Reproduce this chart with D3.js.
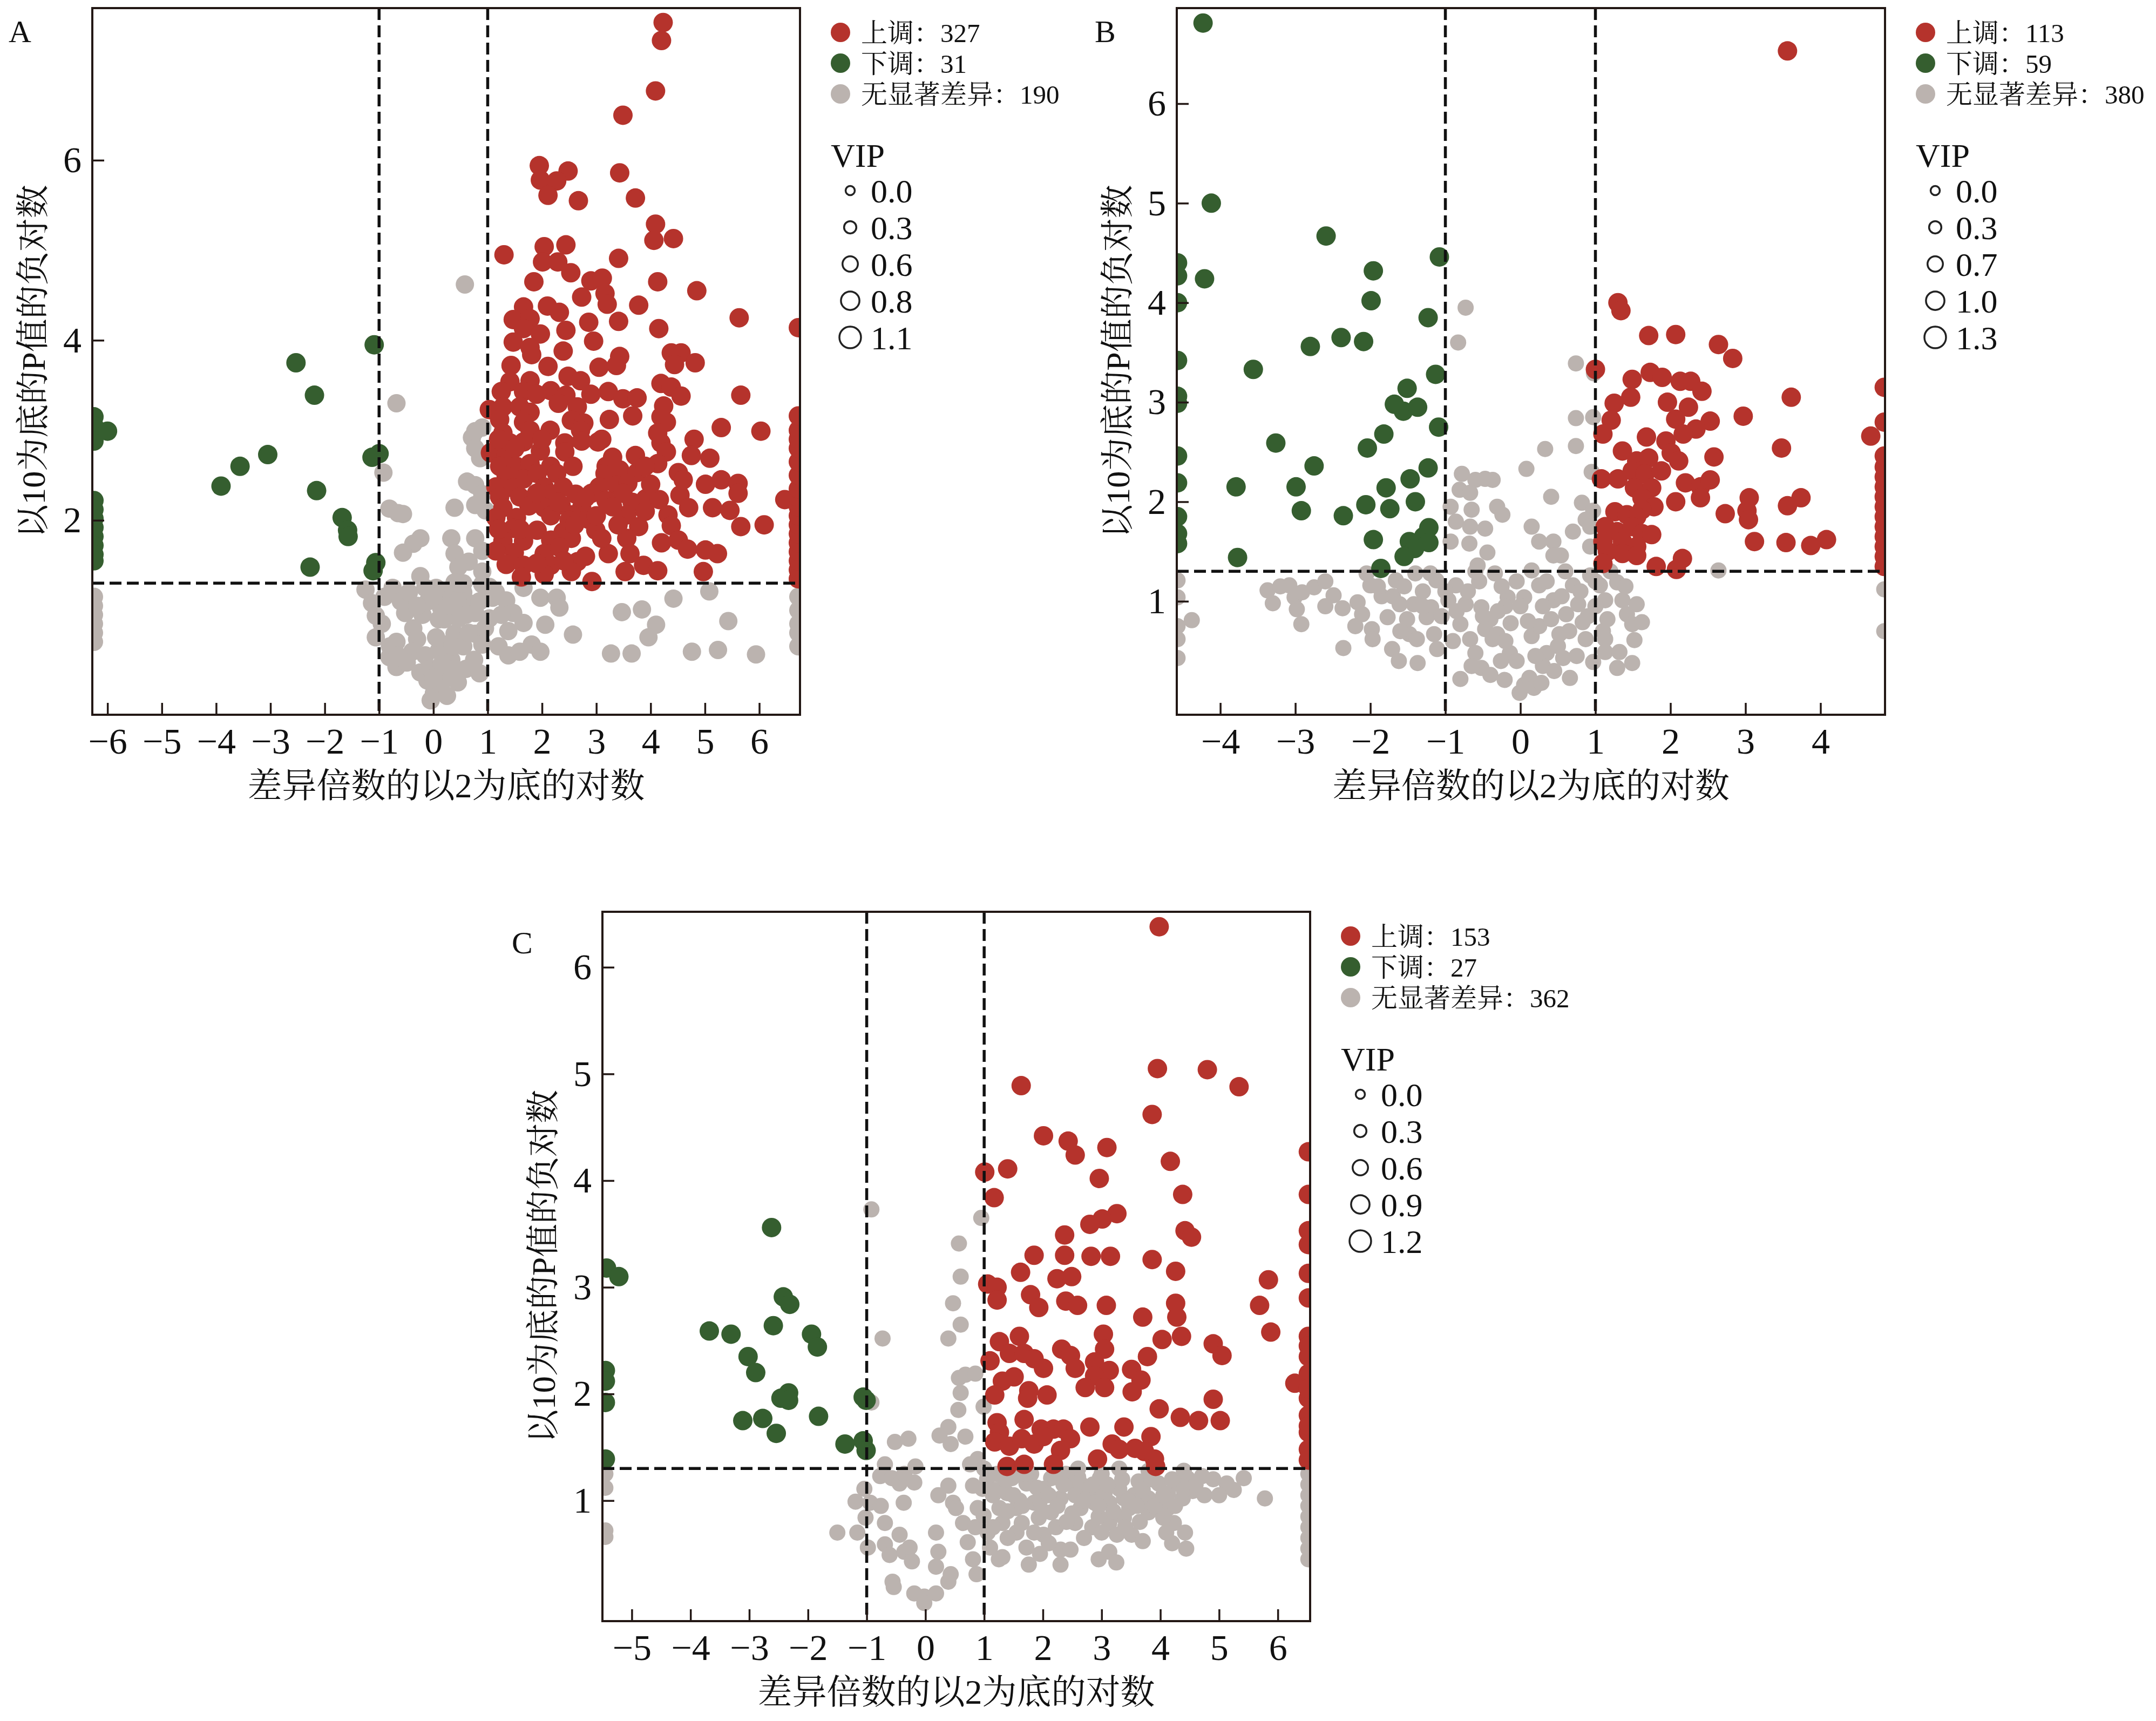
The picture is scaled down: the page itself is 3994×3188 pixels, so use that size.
<!DOCTYPE html>
<html>
<head>
<meta charset="utf-8">
<script src="https://cdn.jsdelivr.net/npm/d3@7"></script>
<style>
  body { margin: 0; background: #fff; }
  svg { display: block; }
</style>
</head>
<body>
<svg id="chart"></svg>
<script>
var width = 3994;
var height = 3188;

// ---- panel A ----
var aXTicks = [-6, -5, -4, -3, -2, -1, 0, 1, 2, 3, 4, 5, 6];
var aYTicks = [2, 4, 6];
var aCounts = [327, 31, 190];
var aVip = ["0.0", "0.3", "0.6", "0.8", "1.1"];

var aUp = [
  [4.23,7.53],[4.20,7.33],[4.09,6.77],[3.49,6.50],[1.95,5.94],[2.48,5.88],[1.97,5.78],[2.27,5.77],[2.11,5.61],[2.67,5.55],
  [3.43,5.86],[3.72,5.58],[4.09,5.29],[4.06,5.11],[4.42,5.13],[1.30,4.95],[2.04,5.04],[2.44,5.06],[2.01,4.87],[2.29,4.87],
  [3.41,4.91],[1.85,4.65],[2.53,4.75],[2.90,4.66],[3.11,4.69],[4.13,4.65],[4.85,4.55],[3.16,4.52],[2.73,4.48],[3.20,4.40],
  [3.78,4.39],[1.66,4.37],[2.10,4.38],[1.47,4.23],[1.78,4.24],[2.32,4.31],[2.86,4.20],[3.41,4.21],[5.63,4.25],[1.66,4.13],
  [1.97,4.07],[2.44,4.11],[4.15,4.13],[1.47,3.98],[1.78,3.92],[2.95,3.99],[1.81,3.84],[2.39,3.88],[3.43,3.82],[4.38,3.86],
  [4.56,3.86],[1.43,3.72],[2.11,3.71],[3.05,3.70],[3.37,3.72],[4.44,3.73],[4.82,3.75],[1.41,3.54],[1.78,3.55],[2.48,3.60],
  [2.71,3.55],[1.25,3.43],[1.66,3.43],[2.16,3.44],[2.44,3.39],[3.22,3.43],[4.19,3.52],[4.38,3.48],[4.56,3.38],[5.66,3.39],
  [1.28,3.26],[1.59,3.26],[1.78,3.20],[2.65,3.26],[3.49,3.35],[3.75,3.36],[4.24,3.27],[1.03,3.23],[1.22,3.12],[1.66,3.09],
  [2.54,3.11],[2.77,3.08],[3.24,3.12],[3.67,3.16],[4.19,3.15],[4.29,3.09],[1.28,2.97],[1.78,3.00],[2.15,3.00],[2.71,3.00],
  [4.13,2.97],[5.30,3.03],[6.03,2.99],[1.41,2.86],[1.66,2.87],[2.42,2.86],[2.73,2.88],[3.03,2.87],[4.80,2.90],[4.19,2.86],
  [1.05,2.75],[1.34,2.73],[1.97,2.77],[2.42,2.76],[4.29,2.76],[4.75,2.72],[5.09,2.69],[1.22,2.60],[1.53,2.60],[1.78,2.63],
  [2.16,2.60],[2.57,2.60],[3.18,2.60],[3.72,2.72],[4.13,2.63],[1.34,2.49],[1.66,2.46],[1.91,2.52],[2.27,2.52],[3.16,2.52],
  [3.43,2.56],[3.75,2.53],[4.51,2.53],[1.15,2.37],[1.47,2.36],[2.04,2.37],[2.39,2.37],[3.05,2.37],[3.37,2.39],[3.58,2.41],
  [5.01,2.40],[5.30,2.45],[5.61,2.41],[1.22,2.26],[1.59,2.26],[2.16,2.29],[2.62,2.29],[2.91,2.30],[3.49,2.30],[4.54,2.28],
  [5.61,2.30],[6.47,2.23],[1.28,2.14],[1.76,2.16],[2.04,2.14],[2.35,2.17],[2.73,2.14],[3.18,2.22],[3.66,2.20],[3.91,2.24],
  [4.16,2.23],[4.70,2.14],[5.14,2.14],[5.46,2.11],[1.15,2.03],[1.53,2.03],[2.16,2.05],[2.54,2.06],[2.86,2.01],[3.56,2.06],
  [4.32,2.06],[6.09,1.95],[5.66,1.93],[1.47,1.91],[1.91,1.89],[2.39,1.87],[2.99,1.89],[3.78,1.93],[4.38,1.94],[1.28,1.77],
  [1.66,1.77],[2.16,1.78],[2.54,1.80],[3.56,1.80],[4.51,1.78],[1.15,1.66],[1.49,1.64],[2.04,1.63],[2.32,1.70],[3.22,1.63],
  [3.62,1.63],[4.68,1.68],[5.01,1.67],[5.23,1.63],[1.34,1.51],[1.66,1.50],[2.16,1.50],[2.65,1.54],[3.87,1.50],[4.13,1.44],
  [4.97,1.43],[1.62,1.37],[2.04,1.40],[2.54,1.43],[2.92,1.32],[3.53,1.43],
  [2.30,2.20],[2.50,2.00],[2.80,2.25],[3.30,2.15],[3.00,2.05],[1.90,2.30],[2.60,1.95],[3.10,1.80],[3.90,2.10],[4.00,2.40],
  [3.30,2.70],[3.90,2.60],[2.00,2.90],[2.30,3.30],[2.90,3.40],[3.10,2.90],[1.50,2.80],[1.90,3.40],[1.20,2.90],[1.20,1.90],
  [1.60,1.90],[2.80,1.60],[2.40,1.55],[1.90,1.52],[3.40,1.95],[4.20,1.75],[4.60,2.45],
  [6.72,1.35],[6.72,1.45],[6.72,1.55],[6.72,1.65],[6.72,1.75],[6.72,1.85],[6.72,1.95],[6.72,2.05],[6.72,2.15],[6.72,2.25],
  [6.72,2.35],[6.72,2.50],[6.72,2.65],[6.72,2.80],[6.72,2.90],[6.72,3.00],[6.72,3.16],[6.72,4.14]
];
var aDown = [
  [-6.25,3.15],[-6.25,3.05],[-6.25,2.88],[-6.00,2.99],[-6.25,2.22],[-6.25,2.12],[-6.25,2.02],[-6.25,1.92],[-6.25,1.82],
  [-6.25,1.72],[-6.25,1.62],[-6.25,1.55],[-2.53,3.75],[-2.19,3.39],[-1.09,3.95],[-3.05,2.73],[-3.56,2.60],[-3.91,2.38],
  [-2.15,2.33],[-1.13,2.70],[-1.00,2.74],[-1.68,2.03],[-1.58,1.89],[-1.57,1.82],[-2.27,1.48],[-1.06,1.53],[-1.11,1.44]
];
var aNone = [
  [0.58,4.62],[-0.68,3.30],[-0.92,2.53],[-0.81,2.13],[-0.56,2.07],[-0.65,2.08],[0.77,2.99],[0.90,3.03],[0.71,2.92],[0.86,2.69],
  [0.77,2.80],[0.62,2.43],[0.77,2.39],[0.90,2.29],[0.39,2.14],[0.77,2.17],[0.96,2.11],[-0.24,1.80],[-0.37,1.74],[-0.56,1.64],
  [0.33,1.80],[0.39,1.63],[0.77,1.80],[0.90,1.66],[0.65,1.54],[0.46,1.48],[0.90,1.43],[-0.24,1.38],
  [-1.25,1.23],[-1.13,1.08],[-1.06,0.94],[-1.06,0.70],[-0.52,0.97],[-0.68,0.65],[-0.81,0.48],[-0.68,0.37],[-0.37,0.80],
  [-0.30,0.68],[-0.39,0.54],[-0.49,0.42],[-0.24,0.31],[-0.11,0.22],[0.01,0.08],[-0.05,0.00],[0.14,0.17],[0.27,0.28],
  [0.33,0.45],[0.20,0.62],[0.39,0.74],[0.14,1.03],[0.27,1.20],[0.46,0.91],[0.65,1.08],[0.39,1.31],[0.77,0.97],[0.77,0.74],
  [0.75,0.45],[0.90,0.62],[1.15,1.20],[1.34,1.11],[1.47,0.97],[1.38,0.77],[1.66,0.86],[1.66,1.25],[1.97,1.14],[2.27,1.14],
  [2.32,1.03],[2.06,0.84],[2.57,0.73],[1.38,0.50],[1.59,0.54],[1.81,0.62],[1.97,0.54],[3.47,0.98],[3.84,1.01],[4.10,0.84],
  [3.96,0.70],[4.42,1.13],[5.08,1.21],[5.43,0.88],[3.27,0.52],[3.65,0.52],[4.76,0.54],[5.24,0.56],[5.94,0.51],
  [1.03,1.26],[1.09,1.14],[0.90,1.29],[1.03,0.91],[-0.95,0.85],[-0.80,0.60],[-0.66,0.50],[0.05,1.25],[0.20,0.90],
  [0.55,0.60],[0.10,0.55],[0.55,1.20],[-0.10,1.10],[-0.20,0.95],[0.60,0.35],[0.45,0.20],[0.25,0.05],
  [-0.90,1.15],[-0.75,1.25],[-0.60,1.10],[-0.45,1.20],[-0.30,1.05],[-0.15,1.25],[0.00,1.15],[0.10,0.90],[0.30,1.05],
  [0.45,1.10],[0.60,0.95],[0.85,1.10],[0.95,0.80],[0.65,0.75],[0.35,0.60],[0.05,0.70],[-0.15,0.50],[-0.05,0.35],
  [0.15,0.40],[0.40,0.35],[0.00,0.25],[0.55,1.30],[0.85,0.30],[1.20,0.60],[1.25,0.95],
  [6.72,1.15],[6.72,1.00],[6.72,0.85],[6.72,0.75],[6.72,0.60],
  [-6.25,1.15],[-6.25,1.05],[-6.25,0.95],[-6.25,0.85],[-6.25,0.75],[-6.25,0.65]
];

// ---- panel B ----
var bXTicks = [-4, -3, -2, -1, 0, 1, 2, 3, 4];
var bYTicks = [1, 2, 3, 4, 5, 6];
var bCounts = [113, 59, 380];
var bVip = ["0.0", "0.3", "0.7", "1.0", "1.3"];

var bUp = [
  [3.56,6.53],[1.30,4.00],[1.34,3.92],[1.71,3.67],[2.07,3.68],[2.64,3.58],[2.83,3.44],[1.00,3.33],[1.49,3.23],[1.73,3.30],
  [1.89,3.25],[2.13,3.21],[2.27,3.21],[2.42,3.11],[1.47,3.05],[1.25,2.99],[1.96,3.00],[2.24,2.95],[3.61,3.05],[2.97,2.86],
  [1.21,2.82],[2.07,2.83],[2.53,2.81],[2.34,2.73],[2.17,2.68],[1.10,2.68],[1.68,2.65],[1.94,2.61],[2.01,2.49],[4.67,2.66],
  [3.48,2.54],[1.36,2.51],[1.55,2.41],[1.71,2.44],[2.58,2.45],[2.11,2.41],[1.49,2.31],[1.66,2.28],[1.88,2.31],[1.08,2.23],
  [1.30,2.23],[1.52,2.14],[1.75,2.14],[2.20,2.19],[2.40,2.15],[2.53,2.22],[2.07,2.00],[2.40,2.04],[3.05,2.04],[3.74,2.04],
  [3.56,1.96],[1.62,2.04],[1.78,1.95],[1.62,1.92],[1.26,1.90],[1.42,1.87],[1.55,1.85],[2.73,1.88],[3.02,1.91],[3.04,1.82],
  [1.13,1.75],[1.29,1.70],[1.49,1.75],[1.62,1.68],[1.75,1.67],[1.10,1.60],[1.36,1.60],[1.55,1.55],[3.12,1.60],[3.54,1.59],
  [3.87,1.56],[4.08,1.62],[1.16,1.50],[1.36,1.48],[1.55,1.46],[1.10,1.38],[2.16,1.43],[1.81,1.35],[2.08,1.32],
  [4.85,1.35],[4.85,1.45],[4.85,1.55],[4.85,1.65],[4.85,1.75],[4.85,1.85],[4.85,1.95],[4.85,2.05],[4.85,2.15],[4.85,2.25],
  [4.85,2.35],[4.85,2.46],[4.85,2.80],[4.85,3.15]
];
var bDown = [
  [-4.23,6.81],[-4.12,5.00],[-2.59,4.67],[-4.21,4.24],[-4.57,4.40],[-4.57,4.27],[-4.57,4.00],[-1.08,4.46],[-1.96,4.32],
  [-1.99,4.02],[-1.23,3.85],[-2.39,3.65],[-2.09,3.61],[-2.80,3.56],[-3.56,3.33],[-4.57,3.42],[-1.13,3.28],[-1.51,3.14],
  [-4.57,3.06],[-4.57,2.99],[-1.68,2.98],[-1.56,2.91],[-1.37,2.95],[-1.09,2.75],[-1.82,2.68],[-3.26,2.59],[-2.04,2.54],
  [-2.75,2.36],[-1.23,2.34],[-4.57,2.46],[-3.79,2.15],[-2.99,2.15],[-4.57,2.19],[-1.47,2.23],[-1.79,2.14],[-1.40,2.00],
  [-2.06,1.97],[-1.74,1.93],[-2.92,1.91],[-2.36,1.86],[-4.57,1.85],[-4.57,1.68],[-4.57,1.58],[-1.22,1.74],[-1.29,1.65],
  [-1.22,1.59],[-1.48,1.60],[-1.41,1.53],[-1.55,1.45],[-1.96,1.62],[-3.77,1.44],[-1.86,1.33]
];
var bNone = [
  [-0.73,3.95],[-0.83,3.60],[0.74,3.39],[0.98,3.29],[0.74,2.84],[0.97,2.85],[0.33,2.53],[0.74,2.56],[0.08,2.33],[-0.78,2.28],
  [-0.60,2.22],[-0.47,2.23],[-0.37,2.22],[0.95,2.30],[0.41,2.05],[-0.81,2.12],[-0.93,1.95],[-0.67,2.09],[-0.65,1.92],
  [-0.86,1.80],[-0.67,1.75],[-0.31,1.95],[-0.24,1.87],[0.82,1.99],[0.97,1.91],[0.87,1.82],[0.15,1.75],[0.25,1.60],
  [0.44,1.60],[0.54,1.46],[0.44,1.46],[0.70,1.70],[0.93,1.75],[0.93,1.55],[-0.47,1.73],[-0.93,1.60],[-0.68,1.58],
  [-0.44,1.49],[-0.57,1.36],[2.64,1.31],
  [-4.57,1.21],[-4.57,1.04],[-4.57,0.75],[-4.57,0.62],[-4.57,0.43],[-4.38,0.81],[-3.37,1.11],[-3.08,1.16],[-3.01,1.04],
  [-2.91,1.09],[-2.75,1.14],[-2.98,0.92],[-2.92,0.77],[-2.49,1.06],[-2.37,0.93],[-2.36,0.53],[-2.17,0.99],[-2.11,0.87],
  [-2.00,1.16],[-1.98,0.72],[-1.97,0.62],[-1.77,0.84],[-1.71,0.52],[-1.62,0.40],[-1.61,0.97],[-1.66,1.21],[-1.51,0.82],
  [-1.48,0.67],[-1.38,0.62],[-1.37,0.38],[-1.42,0.97],[-1.40,1.28],[-1.19,0.94],[-1.15,0.67],[-1.11,0.52],[-1.25,0.84],
  [-1.12,1.21],[-0.96,1.01],[-0.86,1.16],[-0.80,0.77],[-0.73,0.97],[-0.67,0.62],[-0.60,0.48],[-0.52,0.94],[-0.47,0.72],
  [-0.37,0.62],[-0.40,0.82],[-0.34,1.28],[-0.17,1.04],[-0.13,0.78],[-0.14,0.48],[-0.26,0.40],[-0.31,0.67],[-0.52,0.33],
  [-0.40,0.26],[-0.21,0.21],[-0.01,0.08],[0.05,0.16],[0.12,0.23],[0.18,0.13],[0.28,0.18],[-0.80,0.22],[0.15,0.65],
  [0.25,0.75],[0.35,0.48],[0.41,0.82],[0.44,1.01],[0.52,0.67],[0.61,0.87],[0.57,0.43],[0.66,0.23],[0.70,1.16],[0.77,0.97],
  [0.83,0.79],[0.87,0.62],[0.93,1.26],[1.06,1.16],[1.13,1.01],[1.16,0.82],[1.13,0.62],[1.13,0.49],[1.29,0.33],[0.97,0.39],
  [1.29,1.19],[1.36,1.01],[1.42,0.87],[1.49,0.77],[1.52,0.61],[1.49,0.38],[1.32,0.49],[1.62,0.79],[1.55,0.97],
  [4.85,1.12],[4.85,0.70],[0.15,1.31],[0.25,1.16],[0.05,1.04],
  [-1.85,1.05],[-1.30,1.10],[-0.90,0.60],[-0.20,0.95],[0.30,0.35],[0.50,0.55],[0.80,1.10],[1.00,0.95],[-2.60,1.20],[-3.20,1.15],
  [-1.90,1.15],[-1.70,1.05],[-1.55,1.15],[-1.30,0.95],[-1.05,0.85],[-1.00,1.10],[-0.85,0.90],[-0.70,1.10],[-0.55,1.20],
  [-0.50,0.85],[-0.30,0.90],[-0.25,1.15],[-0.05,1.20],[0.00,0.95],[0.10,0.80],[0.30,0.95],[0.35,1.20],[0.55,1.05],
  [0.65,0.70],[0.75,0.45],[0.90,0.85],[1.00,1.20],[1.20,1.30],[1.40,1.15],[1.10,0.70],[-0.20,0.60],[-0.05,0.40],
  [0.20,0.45],[0.45,0.30],[-0.65,0.35],[-1.60,0.70],[-2.20,0.75],[-2.60,0.95],[-3.30,0.98],[-2.05,1.28],[-1.20,1.28],
  [-0.60,1.30],[0.60,1.30]
];

// ---- panel C ----
var cXTicks = [-5, -4, -3, -2, -1, 0, 1, 2, 3, 4, 5, 6];
var cYTicks = [1, 2, 3, 4, 5, 6];
var cCounts = [153, 27, 362];
var cVip = ["0.0", "0.3", "0.6", "0.9", "1.2"];

var cUp = [
  [3.98,6.38],[3.95,5.05],[4.80,5.04],[5.34,4.88],[1.63,4.89],[3.86,4.62],[2.01,4.42],[2.43,4.37],[2.55,4.24],[3.09,4.31],
  [4.17,4.18],[6.52,4.27],[1.01,4.08],[1.40,4.11],[2.96,4.02],[1.17,3.84],[4.38,3.87],[6.52,3.87],[3.26,3.69],[3.01,3.64],
  [2.80,3.59],[2.37,3.49],[4.42,3.53],[4.53,3.47],[6.52,3.53],[6.52,3.40],[1.85,3.30],[2.37,3.30],[2.82,3.29],[3.15,3.29],
  [3.86,3.26],[1.62,3.14],[4.26,3.15],[6.52,3.13],[2.24,3.08],[2.49,3.10],[1.06,3.03],[1.22,3.00],[1.22,2.88],[5.84,3.07],
  [1.79,2.93],[1.93,2.81],[2.39,2.87],[2.59,2.83],[3.08,2.83],[4.26,2.85],[4.28,2.72],[5.69,2.83],[3.70,2.72],[5.88,2.58],
  [3.03,2.56],[3.05,2.42],[1.60,2.54],[1.26,2.49],[1.43,2.38],[4.03,2.51],[4.36,2.54],[4.90,2.47],[5.05,2.36],[6.52,2.54],
  [6.52,2.35],[6.52,2.19],[2.32,2.42],[2.47,2.36],[1.68,2.38],[1.85,2.33],[2.01,2.24],[3.78,2.35],[1.10,2.31],[2.88,2.30],
  [3.13,2.22],[2.88,2.17],[2.55,2.24],[3.51,2.23],[3.67,2.13],[1.31,2.12],[1.51,2.16],[6.29,2.10],[2.72,2.06],[3.05,2.06],
  [1.76,2.03],[1.74,1.96],[2.07,1.99],[1.18,1.99],[3.52,2.02],[4.90,1.95],[6.52,1.96],[6.52,1.80],[3.98,1.86],[4.34,1.78],
  [4.65,1.75],[5.02,1.75],[1.22,1.73],[1.68,1.76],[1.26,1.64],[1.97,1.67],[2.18,1.67],[2.35,1.67],[2.80,1.69],[3.38,1.69],
  [3.84,1.60],[6.52,1.64],[6.52,1.48],[1.18,1.55],[1.43,1.51],[1.64,1.58],[1.85,1.53],[2.01,1.60],[2.47,1.58],[3.18,1.53],
  [3.30,1.48],[3.57,1.49],[3.73,1.46],[3.90,1.39],[2.30,1.47],[2.93,1.39],[1.39,1.32],[1.68,1.34],[2.18,1.34],[3.92,1.32],
  [6.52,1.38],[6.52,1.70],[6.52,2.05],[6.52,2.45],[6.52,2.90]
];
var cDown = [
  [-2.62,3.56],[-5.43,3.18],[-5.22,3.10],[-2.42,2.91],[-2.31,2.84],[-2.59,2.64],[-3.68,2.59],[-3.31,2.56],[-1.94,2.56],
  [-1.84,2.44],[-3.02,2.35],[-2.89,2.20],[-5.45,2.22],[-5.45,2.12],[-5.45,1.92],[-2.33,2.01],[-2.46,1.96],[-2.33,1.94],
  [-1.06,1.97],[-1.01,1.94],[-3.11,1.75],[-2.77,1.77],[-1.82,1.79],[-2.54,1.63],[-1.37,1.53],[-1.06,1.56],[-1.01,1.47],
  [-5.45,1.39]
];
var cNone = [
  [-0.92,3.73],[0.95,3.65],[0.57,3.41],[0.60,3.10],[0.47,2.85],[0.60,2.65],[0.39,2.52],[-0.73,2.52],[0.57,2.15],[0.68,2.18],
  [0.85,2.19],[0.60,2.01],[0.56,1.85],[-0.92,1.92],[0.99,1.88],[0.39,1.69],[0.24,1.61],[0.43,1.53],[0.68,1.60],[-0.52,1.55],
  [-0.29,1.58],[0.89,1.39],[0.76,1.34],[-0.69,1.34],[-0.77,1.23],[-0.57,1.21],[-0.44,1.16],[-0.36,1.25],[-0.17,1.32],
  [-1.04,1.11],[-1.19,0.99],[-0.94,0.98],[-1.02,0.84],[-0.76,0.95],[-0.69,0.79],[-0.37,0.98],[-0.19,1.17],[0.22,1.05],
  [0.39,1.14],[0.47,0.98],[-1.50,0.70],[-1.16,0.70],[-0.98,0.56],[-0.69,0.59],[-0.61,0.49],[-0.44,0.68],[-0.36,0.52],
  [-0.27,0.56],[-0.23,0.43],[-0.56,0.24],[-0.54,0.19],[-0.19,0.13],[-0.02,0.10],[0.18,0.13],[-0.02,0.04],[0.18,0.70],
  [0.22,0.52],[0.18,0.38],[0.39,0.24],[0.43,0.31],[0.52,0.93],[0.64,0.79],[0.72,0.61],[0.85,0.75],[0.81,0.45],[0.87,0.31],
  [0.97,1.11],[0.99,0.86],[1.06,0.70],[0.89,0.93],[0.81,1.14],
  [1.22,1.25],[1.39,1.07],[1.55,0.93],[1.72,1.16],[1.85,0.98],[2.01,1.11],[2.14,0.89],[2.30,1.02],[2.47,1.16],[2.64,0.93],
  [2.80,1.07],[2.97,1.21],[3.13,0.98],[3.30,1.11],[3.47,0.93],[3.63,1.18],[3.80,1.02],[3.97,1.16],[4.13,1.07],[4.30,1.16],
  [4.46,1.21],[4.71,1.23],[4.75,1.05],[5.13,1.16],[5.42,1.21],[5.78,1.02],
  [1.31,0.79],[1.55,0.70],[1.72,0.56],[1.76,0.40],[2.01,0.68],[2.22,0.75],[2.30,0.54],[2.47,0.54],[2.55,0.79],[2.84,0.75],
  [2.88,0.98],[3.13,0.79],[3.13,0.52],[3.26,0.68],[3.51,0.68],[3.80,0.89],[4.01,0.93],[4.23,0.79],[4.42,0.70],[4.05,0.84],
  [3.38,0.84],[1.31,0.47],[1.10,0.56],[1.26,0.93],[1.64,0.79],[1.93,0.84],
  [1.47,1.21],[1.80,1.25],[2.14,1.21],[2.39,1.25],[2.64,1.16],[3.05,1.07],[3.38,1.02],[3.72,0.98],[4.13,0.93],[4.38,1.02],
  [4.55,1.09],[1.15,1.05],[1.60,1.00],[2.00,0.90],[2.55,1.05],[2.95,0.85],[3.55,1.05],[3.00,1.25],[2.20,1.22],[1.40,0.90],
  [1.05,1.20],[1.20,1.10],[1.35,1.20],[1.50,1.05],[1.65,0.95],[1.70,1.25],[1.90,1.12],[1.95,1.00],[2.10,1.05],[2.25,0.95],
  [2.35,1.15],[2.50,0.88],[2.60,1.22],[2.70,1.00],[2.85,1.15],[2.95,0.95],[3.10,1.15],[3.20,0.90],[3.35,1.20],[3.45,1.00],
  [3.60,0.95],[3.70,1.10],[3.85,1.20],[3.90,0.95],[4.05,1.05],[4.20,1.20],[4.25,0.95],[4.40,1.10],[4.60,1.15],[4.90,1.20],
  [1.15,0.75],[1.40,0.65],[1.85,0.70],[2.10,0.60],[2.40,0.80],[2.70,0.65],[3.00,0.70],[3.40,0.75],[3.65,0.80],[4.20,0.60],
  [4.44,0.55],[1.00,1.30],[1.60,1.30],[2.60,1.30],[3.30,1.30],[3.80,1.28],[4.40,1.28],[5.00,1.05],[5.25,1.10],[4.10,0.70],
  [3.70,0.62],[1.25,0.45],[1.95,0.50],[2.30,0.40],[2.95,0.45],[3.25,0.42],
  [6.52,1.25],[6.52,1.15],[6.52,1.05],[6.52,0.95],[6.52,0.85],[6.52,0.75],[6.52,0.65],[6.52,0.55],[6.52,0.45],
  [-5.45,1.25],[-5.45,1.12],[-5.45,0.72],[-5.45,0.66]
];

var legendNames = ["上调：", "下调：", "无显著差异："];
var colors = ["#b5332c", "#355e2f", "#bbb3af"];

var serif = "'Liberation Serif', 'Times New Roman', 'Noto Serif CJK SC', 'Noto Sans CJK SC', serif";

var panels = [
  { letter: "A", left: 171, top: 15, w: 1311, h: 1309, xDomain: [-6.28, 6.75], yDomain: [-0.16, 7.69],
    xTicks: aXTicks, yTicks: aYTicks, up: aUp, down: aDown, none: aNone, counts: aCounts, vip: aVip,
    letterX: 16, letterY: 78, grayR: 17 },
  { letter: "B", left: 2180, top: 15, w: 1312, h: 1309, xDomain: [-4.58, 4.86], yDomain: [-0.14, 6.96],
    xTicks: bXTicks, yTicks: bYTicks, up: bUp, down: bDown, none: bNone, counts: bCounts, vip: bVip,
    letterX: 2028, letterY: 78, grayR: 15 },
  { letter: "C", left: 1116, top: 1689, w: 1311, h: 1314, xDomain: [-5.50, 6.55], yDomain: [-0.13, 6.52],
    xTicks: cXTicks, yTicks: cYTicks, up: cUp, down: cDown, none: cNone, counts: cCounts, vip: cVip,
    letterX: 948, letterY: 1766, grayR: 15 }
];

var svg = d3.select("#chart")
    .attr("width", width)
    .attr("height", height);

svg.append("rect")
    .attr("width", width)
    .attr("height", height)
    .attr("fill", "#fff");

function minus(v) {
    return v < 0 ? "\u2212" + Math.abs(v) : String(v);
}

function drawPanel(p, idx) {
    var xScale = d3.scaleLinear().domain(p.xDomain).range([0, p.w]);
    var yScale = d3.scaleLinear().domain(p.yDomain).range([p.h, 0]);

    var g = svg.append("g")
        .attr("transform", "translate(" + p.left + "," + p.top + ")");

    var clipId = "clip" + idx;
    g.append("clipPath").attr("id", clipId)
      .append("rect")
        .attr("width", p.w)
        .attr("height", p.h);

    var marks = g.append("g").attr("clip-path", "url(#" + clipId + ")");

    // points: gray first, then green, then red on top
    var groups = [
        { data: p.none, color: colors[2], r: p.grayR },
        { data: p.down, color: colors[1], r: 18 },
        { data: p.up, color: colors[0], r: 18 }
    ];
    groups.forEach(function(grp) {
        marks.append("g").selectAll("circle")
            .data(grp.data)
            .enter().append("circle")
            .attr("cx", function(d) { return xScale(d[0]); })
            .attr("cy", function(d) { return yScale(d[1]); })
            .attr("r", grp.r)
            .attr("fill", grp.color);
    });

    // threshold lines
    var dash = "22,10";
    [-1, 1].forEach(function(v) {
        g.append("line")
            .attr("x1", xScale(v)).attr("x2", xScale(v))
            .attr("y1", 0).attr("y2", p.h)
            .attr("stroke", "#111").attr("stroke-width", 5.5)
            .attr("stroke-dasharray", dash);
    });
    g.append("line")
        .attr("x1", 0).attr("x2", p.w)
        .attr("y1", yScale(-Math.log10(0.05))).attr("y2", yScale(-Math.log10(0.05)))
        .attr("stroke", "#111").attr("stroke-width", 5.5)
        .attr("stroke-dasharray", dash);

    // axes
    var xAxis = g.append("g")
        .attr("transform", "translate(0," + p.h + ")")
        .call(d3.axisBottom(xScale)
            .tickValues(p.xTicks)
            .tickFormat(minus)
            .tickSizeInner(-22)
            .tickSizeOuter(0)
            .tickPadding(24));

    var yAxis = g.append("g")
        .call(d3.axisLeft(yScale)
            .tickValues(p.yTicks)
            .tickFormat(minus)
            .tickSizeInner(-22)
            .tickSizeOuter(0)
            .tickPadding(20));

    [xAxis, yAxis].forEach(function(ax) {
        ax.select(".domain").remove();
        ax.selectAll(".tick line").attr("stroke", "#231815").attr("stroke-width", 3.5);
        ax.selectAll(".tick text")
            .attr("fill", "#111")
            .attr("font-family", serif)
            .attr("font-size", 68);
    });

    // frame
    g.append("rect")
        .attr("width", p.w)
        .attr("height", p.h)
        .attr("fill", "none")
        .attr("stroke", "#231815")
        .attr("stroke-width", 4);

    // axis titles
    g.append("text")
        .attr("x", p.w / 2)
        .attr("y", p.h + 153)
        .attr("text-anchor", "middle")
        .attr("font-family", serif)
        .attr("font-size", 64)
        .attr("fill", "#111")
        .text("差异倍数的以2为底的对数");

    g.append("text")
        .attr("transform", "translate(-110," + (p.h / 2) + ") rotate(-90)")
        .attr("text-anchor", "middle")
        .attr("dy", "0.35em")
        .attr("font-family", serif)
        .attr("font-size", 62)
        .attr("fill", "#111")
        .text("以10为底的P值的负对数");

    // panel letter
    svg.append("text")
        .attr("x", p.letterX)
        .attr("y", p.letterY)
        .attr("font-family", serif)
        .attr("font-size", 58)
        .attr("fill", "#111")
        .text(p.letter);

    // legend: groups
    var leg = g.append("g").attr("transform", "translate(" + (p.w + 75) + ",0)");
    legendNames.forEach(function(name, i) {
        var y = 45 + i * 57;
        leg.append("circle")
            .attr("cx", 0).attr("cy", y)
            .attr("r", 18)
            .attr("fill", colors[i]);
        leg.append("text")
            .attr("x", 38).attr("y", y)
            .attr("dy", "0.36em")
            .attr("font-family", serif)
            .attr("font-size", 49)
            .attr("fill", "#111")
            .text(name + p.counts[i]);
    });

    // legend: VIP sizes
    var rScale = d3.scaleLinear().domain([0, p.vip.length - 1]).range([8.5, 20]);
    leg.append("text")
        .attr("x", -18).attr("y", 272)
        .attr("dy", "0.35em")
        .attr("font-family", serif)
        .attr("font-size", 62)
        .attr("fill", "#111")
        .text("VIP");
    p.vip.forEach(function(v, i) {
        var y = 338 + i * 68;
        leg.append("circle")
            .attr("cx", 18).attr("cy", y)
            .attr("r", rScale(i))
            .attr("fill", "none")
            .attr("stroke", "#222")
            .attr("stroke-width", 3.5);
        leg.append("text")
            .attr("x", 56).attr("y", y)
            .attr("dy", "0.36em")
            .attr("font-family", serif)
            .attr("font-size", 62)
            .attr("fill", "#111")
            .text(v);
    });
}

panels.forEach(drawPanel);
</script>
</body>
</html>
